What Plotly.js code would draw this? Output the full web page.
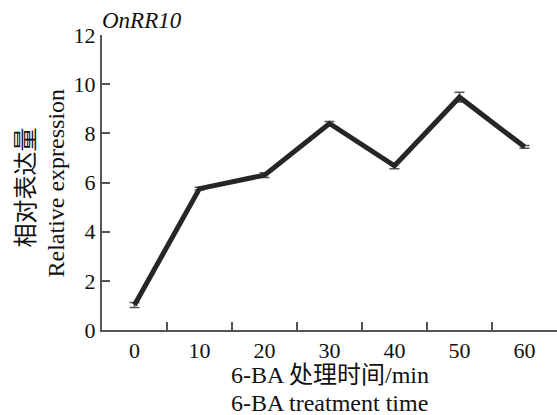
<!DOCTYPE html>
<html><head><meta charset="utf-8">
<script src="https://cdn.plot.ly/plotly-3.0.1.min.js"></script>
<style>html,body{margin:0;padding:0;background:#fff}#chart{width:557px;height:415px}</style>
</head><body><div id="chart"></div>
<script>
const times = ["0","10","20","30","40","50","60"];
const expression = [1.02, 5.75, 6.3, 8.4, 6.68, 9.47, 7.45];
const errors = [0.1, 0.06, 0.1, 0.08, 0.12, 0.2, 0.06];
const yTicks = [0,2,4,6,8,10,12];

const serif = "'Liberation Serif', 'Times New Roman', Times, serif";
const cjk = "'Liberation Serif', 'Noto Sans CJK SC', serif";

const trace = {
  x: times, y: expression, type: "scatter", mode: "lines",
  line: {color: "#262626", width: 5},
  error_y: {type: "data", array: errors, visible: true, color: "#555", thickness: 1.5, width: 5},
  hoverinfo: "none"
};

const layout = {
  width: 557, height: 415,
  margin: {l: 102, r: 0, t: 35, b: 85},
  paper_bgcolor: "#fff", plot_bgcolor: "#fff",
  showlegend: false,
  font: {family: serif},
  xaxis: {
    type: "category", range: [-0.5, 6.5],
    tickson: "boundaries", ticks: "inside", ticklen: 8, tickwidth: 2, tickcolor: "#555",
    showline: true, linecolor: "#555", linewidth: 2, showgrid: false, zeroline: false,
    tickfont: {family: serif, size: 22, color: "#111"}
  },
  yaxis: {
    range: [0, 12], tickvals: yTicks, ticks: "inside", ticklen: 8, tickwidth: 2, tickcolor: "#555",
    showline: true, linecolor: "#555", linewidth: 2, showgrid: false, zeroline: false,
    tickfont: {family: serif, size: 22, color: "#111"}
  },
  annotations: [
    {text: "<i>OnRR10</i>", xref: "paper", yref: "paper", x: 0, y: 1, xanchor: "left", yanchor: "bottom",
     xshift: -2, yshift: 0, showarrow: false, font: {family: serif, size: 23, color: "#111"}},
    {text: "6-BA 处理时间/min", xref: "paper", yref: "paper", x: 0.5, y: 0, xanchor: "center", yanchor: "middle",
     yshift: -45, showarrow: false, font: {family: cjk, size: 24, color: "#111"}},
    {text: "6-BA treatment time", xref: "paper", yref: "paper", x: 0.5, y: 0, xanchor: "center", yanchor: "middle",
     yshift: -73, showarrow: false, font: {family: serif, size: 24, color: "#111"}},
    {text: "相对表达量", xref: "paper", yref: "paper", x: 0, y: 0.5, xanchor: "center", yanchor: "middle",
     xshift: -77, yshift: -5, textangle: -90, showarrow: false, font: {family: cjk, size: 24, color: "#111"}},
    {text: "Relative expression", xref: "paper", yref: "paper", x: 0, y: 0.5, xanchor: "center", yanchor: "middle",
     xshift: -47, yshift: -1, textangle: -90, showarrow: false, font: {family: serif, size: 24, color: "#111"}}
  ]
};

Plotly.newPlot("chart", [trace], layout, {staticPlot: true, displayModeBar: false});
</script></body></html>
